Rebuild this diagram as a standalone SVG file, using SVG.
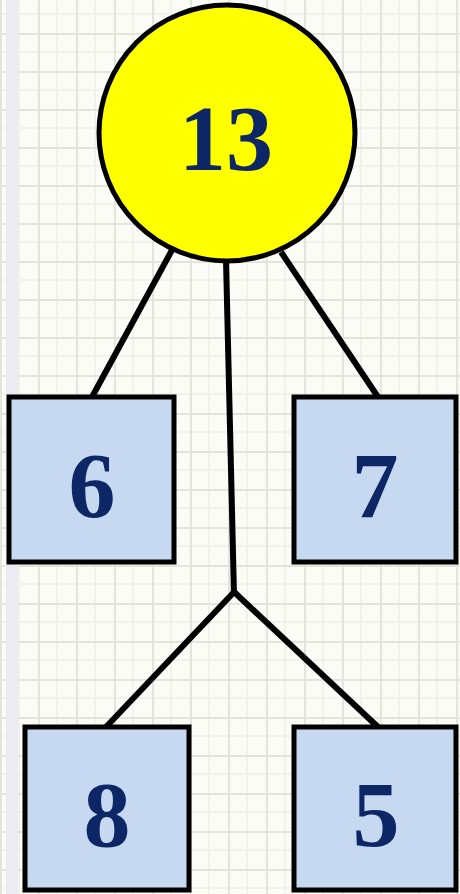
<svg xmlns="http://www.w3.org/2000/svg" width="460" height="894" viewBox="0 0 460 894">
<defs>
<pattern id="grid" x="0" y="-5" width="38" height="38" patternUnits="userSpaceOnUse">
<rect width="38" height="38" fill="#fcfcf6"/>
<path d="M0 19H38M19 0V38" stroke="#f1f2ea" stroke-width="2"/>
<path d="M0 0.5H38M0.5 0V38" stroke="#e3e4dc" stroke-width="3"/>
</pattern>
<style>
.box{fill:#c6d9f0;stroke:#000;stroke-width:5}
.lbl{font-family:"Liberation Serif",serif;font-weight:bold;font-size:94px;fill:#0d2766;text-anchor:middle}
.conn line{stroke:#000;stroke-width:6}
</style>
</defs>
<rect width="460" height="894" fill="url(#grid)"/>
<rect x="6" y="0" width="12" height="894" fill="#ecebf4"/>
<g class="conn" id="connectors">
<line x1="172" y1="250" x2="92" y2="397"/>
<line x1="281" y1="252" x2="378" y2="397"/>
<line x1="226" y1="260" x2="234" y2="595"/>
<line x1="236" y1="590" x2="106" y2="727"/>
<line x1="232" y1="590" x2="378" y2="727"/>
</g>
<g id="n13">
<circle cx="227" cy="133" r="128" fill="#ffff00" stroke="#000" stroke-width="5"/>
<text class="lbl" x="226" y="170">13</text>
</g>
<g id="n6">
<rect class="box" x="9" y="397" width="165" height="165"/>
<text class="lbl" x="92" y="517">6</text>
</g>
<g id="n7">
<rect class="box" x="294" y="397" width="162" height="165"/>
<text class="lbl" x="375" y="517">7</text>
</g>
<g id="n8">
<rect class="box" x="25" y="727" width="164" height="163"/>
<text class="lbl" x="107" y="846">8</text>
</g>
<g id="n5">
<rect class="box" x="294" y="727" width="162" height="163"/>
<text class="lbl" x="376" y="846">5</text>
</g>
</svg>
